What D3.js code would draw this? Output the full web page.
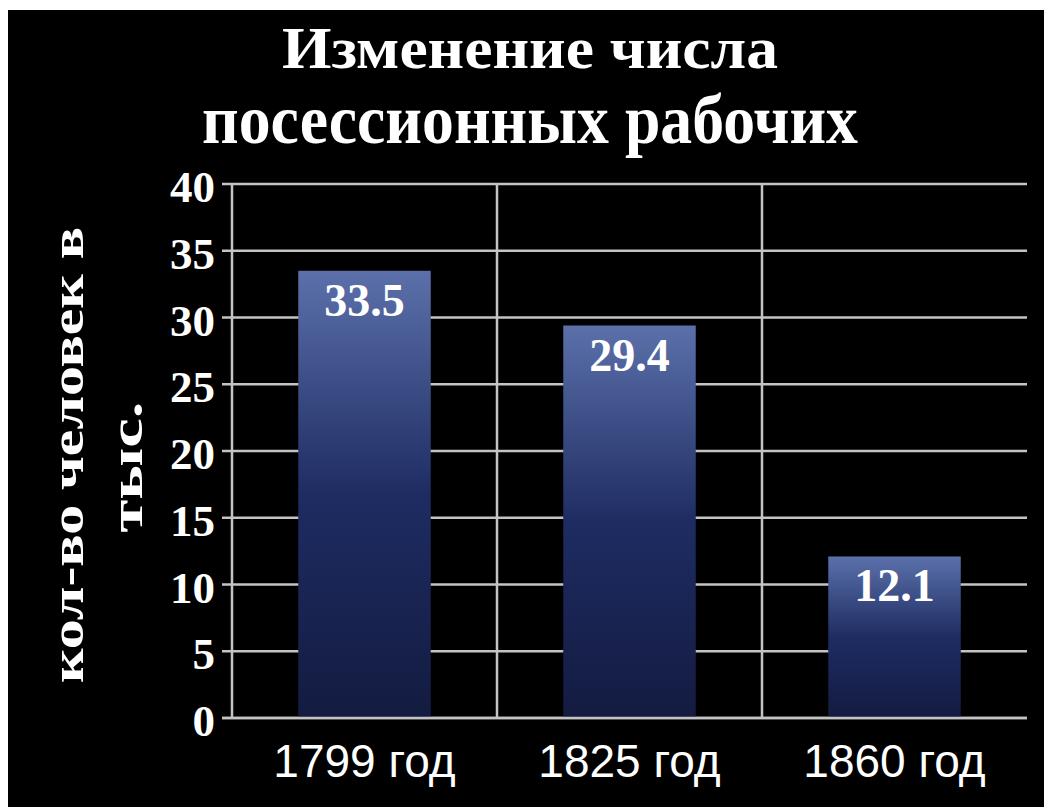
<!DOCTYPE html>
<html>
<head>
<meta charset="utf-8">
<script src="https://cdn.jsdelivr.net/npm/d3@7"></script>
<style>
  html, body { margin: 0; padding: 0; background: #ffffff; }
  svg { display: block; }
</style>
</head>
<body>
<svg id="chart" width="1044" height="807"></svg>
<script>
const categories = ["1799 год", "1825 год", "1860 год"];
const values = [33.5, 29.4, 12.1];
const yTicks = [0, 5, 10, 15, 20, 25, 30, 35, 40];
const titleLines = ["Изменение числа", "посессионных рабочих"];
const yTitleLines = ["кол-во человек в", "тыс."];

const svg = d3.select("#chart");
const W = 1044, H = 807;

// slide background
svg.append("rect").attr("x", 0).attr("y", 0).attr("width", W).attr("height", H).attr("fill", "#ffffff");
svg.append("rect").attr("x", 8).attr("y", 10).attr("width", W - 8).attr("height", H - 10).attr("fill", "#000000");

const plot = { left: 232, right: 1027, top: 184, bottom: 718 };

const x = d3.scaleBand().domain(categories).range([plot.left, plot.right])
  .paddingInner(0.5).paddingOuter(0.25);
const y = d3.scaleLinear().domain([0, 40]).range([plot.bottom, plot.top]);

const defs = svg.append("defs");
const grad = defs.append("linearGradient").attr("id", "barGrad")
  .attr("x1", 0).attr("y1", 0).attr("x2", 0).attr("y2", 1);
grad.append("stop").attr("offset", "0%").attr("stop-color", "#5b70aa");
grad.append("stop").attr("offset", "50%").attr("stop-color", "#1e2c62");
grad.append("stop").attr("offset", "100%").attr("stop-color", "#131b40");

const gridColor = "#c4c4c4";
const grid = svg.append("g");

// horizontal gridlines
grid.selectAll("line.h").data(yTicks).enter().append("line")
  .attr("x1", plot.left - 10).attr("x2", plot.right)
  .attr("y1", d => y(d)).attr("y2", d => y(d))
  .attr("stroke", gridColor).attr("stroke-width", 2.5);

// vertical gridlines between categories
const step = x.step();
const boundaries = categories.slice(0, -1).map(c => x(c) + x.bandwidth() + (step - x.bandwidth()) / 2);
grid.selectAll("line.v").data(boundaries).enter().append("line")
  .attr("x1", d => d).attr("x2", d => d)
  .attr("y1", plot.top).attr("y2", plot.bottom)
  .attr("stroke", gridColor).attr("stroke-width", 2.5);

// y axis line
grid.append("line").attr("x1", plot.left).attr("x2", plot.left)
  .attr("y1", plot.top).attr("y2", plot.bottom)
  .attr("stroke", gridColor).attr("stroke-width", 2.5);

// bars
svg.append("g").selectAll("rect").data(values).enter().append("rect")
  .attr("x", (d, i) => x(categories[i]))
  .attr("width", x.bandwidth())
  .attr("y", d => y(d))
  .attr("height", d => y(0) - y(d))
  .attr("fill", "url(#barGrad)");

// baseline over bars
svg.append("line").attr("x1", plot.left - 10).attr("x2", plot.right)
  .attr("y1", y(0)).attr("y2", y(0))
  .attr("stroke", gridColor).attr("stroke-width", 2.5);

// value labels
svg.append("g").selectAll("text").data(values).enter().append("text")
  .attr("x", (d, i) => x(categories[i]) + x.bandwidth() / 2)
  .attr("y", d => y(d) + 45)
  .attr("text-anchor", "middle")
  .attr("font-family", "'Liberation Serif', 'Times New Roman', serif")
  .attr("font-weight", "bold")
  .attr("font-size", 46)
  .attr("fill", "#ffffff")
  .text(d => d.toFixed(1));

// y tick labels
svg.append("g").selectAll("text").data(yTicks).enter().append("text")
  .attr("x", 215)
  .attr("y", d => y(d) + 18)
  .attr("text-anchor", "end")
  .attr("font-family", "'Liberation Serif', 'Times New Roman', serif")
  .attr("font-weight", "bold")
  .attr("font-size", 45)
  .attr("fill", "#ffffff")
  .text(d => d);

// x labels
svg.append("g").selectAll("text").data(categories).enter().append("text")
  .attr("x", d => x(d) + x.bandwidth() / 2)
  .attr("y", 777)
  .attr("text-anchor", "middle")
  .attr("font-family", "'Liberation Sans', Arial, sans-serif")
  .attr("font-size", 46)
  .attr("fill", "#ffffff")
  .text(d => d);

// title
const titleSpecs = [
  { cx: 530, y: 68, size: 60, len: 496 },
  { cx: 530, y: 143, size: 70, len: 656 }
];
titleLines.forEach((t, i) => {
  const s = titleSpecs[i];
  svg.append("text")
    .attr("x", s.cx).attr("y", s.y)
    .attr("text-anchor", "middle")
    .attr("font-family", "'Liberation Serif', 'Times New Roman', serif")
    .attr("font-weight", "bold")
    .attr("font-size", s.size)
    .attr("fill", "#ffffff")
    .attr("textLength", s.len)
    .attr("lengthAdjust", "spacingAndGlyphs")
    .text(t);
});

// y axis title (rotated, two lines)
const yTitleSpecs = [
  { bx: 83, cy: 455, len: 456 },
  { bx: 142, cy: 467, len: 131 }
];
yTitleLines.forEach((t, i) => {
  const s = yTitleSpecs[i];
  svg.append("text")
    .attr("transform", `translate(${s.bx},${s.cy}) rotate(-90)`)
    .attr("text-anchor", "middle")
    .attr("font-family", "'Liberation Serif', 'Times New Roman', serif")
    .attr("font-weight", "bold")
    .attr("font-size", 46)
    .attr("fill", "#ffffff")
    .attr("textLength", s.len)
    .attr("lengthAdjust", "spacingAndGlyphs")
    .text(t);
});
</script>
</body>
</html>
